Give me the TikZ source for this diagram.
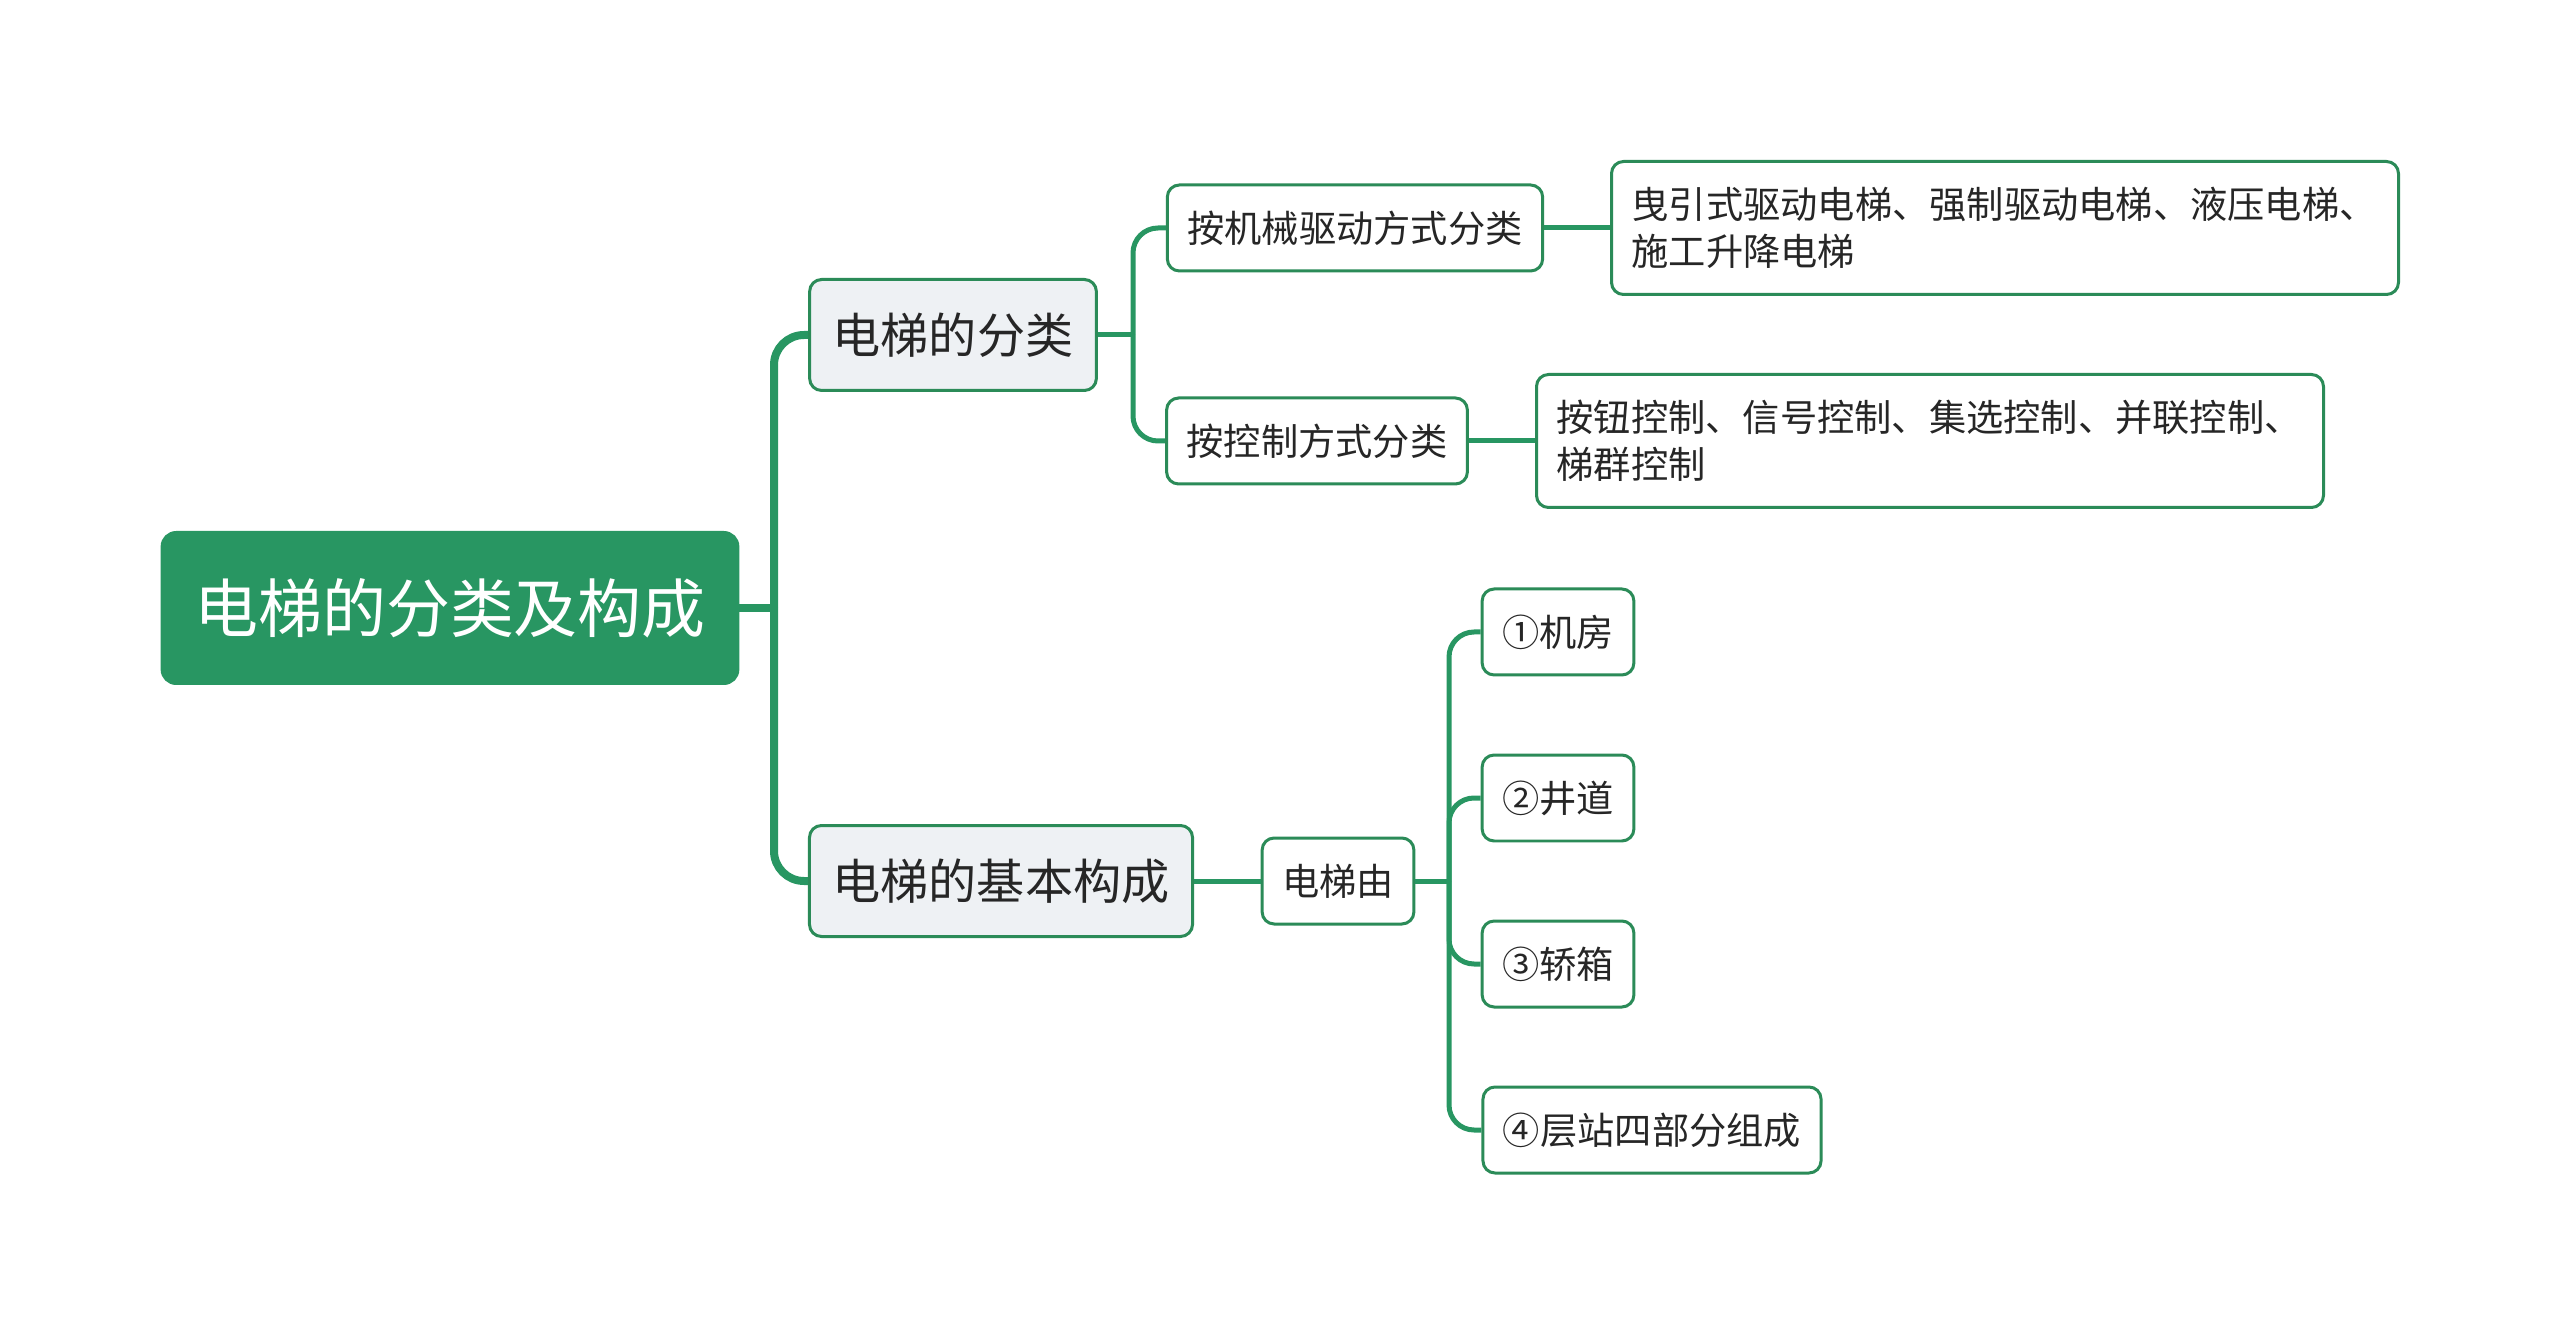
\documentclass[tikz,border=0pt]{standalone}
\usepackage{fontspec}
\newfontfamily\cjk{Noto Sans CJK SC}
\definecolor{mapgreen}{RGB}{40,150,98}
\definecolor{linegreen}{RGB}{43,139,88}
\definecolor{boxgray}{RGB}{238,241,244}
\definecolor{inkgray}{RGB}{38,38,38}
\tikzset{ %inner sep = 0.5mm,
  {base box/.style} ={rectangle, draw=linegreen, line width=0.3mm,
                rounded corners=1.2mm, text=inkgray, inner ysep=0},
  {root box/.style} ={base box, fill=mapgreen, draw=mapgreen, text=white,
                font=\cjk\fontsize{18.2}{22}\selectfont,
                minimum height=15.1mm, inner xsep=3.2mm, rounded corners=1.4mm},
  {main box/.style} ={base box, fill=boxgray,
                font=\cjk\fontsize{13.7}{17}\selectfont,
                minimum height=11.1mm, inner xsep=2.3mm},
  {sub box/.style} ={base box, fill=white,
                font=\cjk\fontsize{10.6}{13.4}\selectfont,
                minimum height=8.6mm, inner xsep=2mm},
  {leaf box/.style} ={sub box, minimum height=13.3mm, inner xsep=2mm,
                text width=7.47cm, align=left},
  {root link/.style} ={draw=mapgreen, line width=0.8mm, rounded corners=3mm},
  {link/.style} ={draw=mapgreen, line width=0.5mm, rounded corners=2.5mm},
}

\begin{document}
\begin{tikzpicture}[x=0.1mm,y=-0.1mm]
    \useasboundingbox (0,0) rectangle (2560,1333);
    \node[root box] (root) at (450,608) {电梯的分类及构成};
    \node[main box] (kind) at (953,335) {电梯的分类};
    \node[main box] (parts) at (1001,881) {电梯的基本构成};
    \node[sub box] (drive) at (1355,228) {按机械驱动方式分类};
    \node[sub box] (control) at (1317,441) {按控制方式分类};
    \node[leaf box] (drivelist) at (2005,228)
        {曳引式驱动电梯、强制驱动电梯、液压电梯、\\施工升降电梯};
    \node[leaf box] (controllist) at (1930,441)
        {按钮控制、信号控制、集选控制、并联控制、\\梯群控制};
    \node[sub box] (madeof) at (1338,881) {电梯由};
    \node[sub box] (room) at (1558,632) {①机房};
    \node[sub box] (shaft) at (1558,798) {②井道};
    \node[sub box] (car) at (1558,964) {③轿箱};
    \node[sub box] (landing) at (1652,1130) {④层站四部分组成};
    % forks
    \coordinate (rootfork) at (774,608);
    \coordinate (kindfork) at (1133,335);
    \coordinate (partfork) at (1449,881);
    \draw[root link] (root.east) -- (rootfork);
    \draw[root link] (rootfork) |- (kind.west);
    \draw[root link] (rootfork) |- (parts.west);
    \draw[link] (kind.east) -- (kindfork);
    \draw[link] (kindfork) |- (drive.west);
    \draw[link] (kindfork) |- (control.west);
    \draw[link] (drive) -- (drivelist);
    \draw[link] (control) -- (controllist);
    \draw[link] (parts) -- (madeof);
    \draw[link] (madeof.east) -- (partfork);
    \foreach \part in {room,shaft,car,landing}
        \draw[link] (partfork) |- (\part.west);
\end{tikzpicture}
\end{document}
